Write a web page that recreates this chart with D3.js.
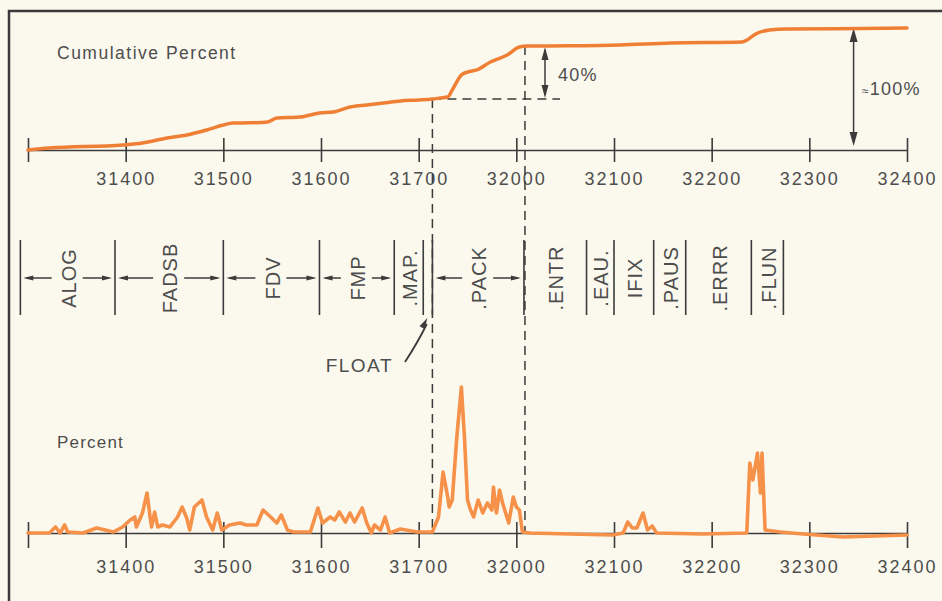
<!DOCTYPE html>
<html>
<head>
<meta charset="utf-8">
<script src="https://cdn.jsdelivr.net/npm/d3@7"></script>
<style>
  body { margin: 0; background: #fbf9ee; }
  svg { display: block; font-family: "Liberation Sans", Arial, sans-serif; }
</style>
</head>
<body>
<svg id="chart" width="942" height="601"></svg>
<script>
// addresses are octal on the axis, decimal in the arrays below
var axisStart = "31300";
var tickLabels = ["31400", "31500", "31600", "31700", "32000", "32100", "32200", "32300", "32400"];

// cumulative percent of samples vs address
var cumAddr = [12992, 13006, 13054, 13067, 13083, 13096, 13109, 13120, 13126, 13137,
               13149, 13155, 13170, 13183, 13192, 13203, 13214, 13225, 13236, 13248,
               13257, 13262, 13267, 13270, 13276, 13280, 13286, 13295, 13306, 13314,
               13319, 13347, 13380, 13413, 13460, 13470, 13478, 13489, 13522, 13568];
var cumPct  = [0, 1.6, 4.1, 5.7, 9.8, 12.3, 16.4, 20.5, 22.1, 22.3,
               23.0, 26.2, 27.0, 30.3, 31.1, 35.2, 36.9, 38.5, 40.2, 41.0,
               41.8, 42.6, 43.4, 49.2, 61.5, 63.9, 65.6, 72.1, 77.9, 84.4,
               85.2, 85.4, 86.1, 87.7, 88.5, 95.9, 98.4, 99.2, 99.4, 100];

// percent of samples per address
var pctAddr = [12992, 13006, 13010, 13013, 13016, 13018, 13028, 13037, 13048, 13054,
               13059, 13062, 13063, 13067, 13070, 13072, 13073, 13075, 13077, 13080,
               13085, 13090, 13093, 13096, 13098, 13101, 13106, 13109, 13113, 13116,
               13119, 13124, 13131, 13135, 13142, 13146, 13151, 13155, 13158, 13162,
               13166, 13177, 13182, 13185, 13190, 13193, 13196, 13200, 13203, 13206,
               13211, 13214, 13217, 13219, 13223, 13226, 13229, 13236, 13247, 13257,
               13261, 13264, 13267, 13268, 13270, 13273, 13276, 13278, 13280, 13282,
               13284, 13287, 13290, 13293, 13296, 13297, 13299, 13301, 13303, 13307,
               13310, 13312, 13314, 13316, 13321, 13347, 13375, 13382, 13385, 13388,
               13391, 13395, 13398, 13401, 13404, 13434, 13463, 13465, 13467, 13470,
               13472, 13473, 13475, 13485, 13500, 13526, 13568];
var pctVal  = [0, 0, 0.3, 0, 0.4, 0.05, 0, 0.25, 0.05, 0.3,
               0.65, 0.8, 0.3, 1.0, 2.0, 0.8, 0.3, 1.05, 0.3, 0.4,
               0.3, 0.8, 1.3, 0.75, 0.15, 1.3, 1.65, 0.8, 0.15, 1.0,
               0.15, 0.4, 0.5, 0.4, 0.4, 1.15, 0.8, 0.5, 0.9, 0.15,
               0.05, 0.05, 1.25, 0.5, 0.8, 0.65, 1.05, 0.55, 1.0, 0.55,
               1.25, 0.5, 0, 0.4, 0.15, 0.8, 0, 0.2, 0.05, 0.05,
               0.8, 3.05, 1.8, 1.3, 1.65, 4.8, 7.3, 4.8, 1.65, 1.15,
               0.8, 1.65, 1.0, 1.5, 1.15, 2.3, 1.0, 2.15, 1.5, 0.5,
               1.8, 1.3, 1.15, 0.05, 0, -0.05, -0.1, 0, 0.55, 0.25,
               0.25, 1.0, 0.15, 0.35, 0, -0.05, 0, 3.5, 2.65, 4.0,
               2.0, 4.0, 0.15, 0.05, -0.05, -0.2, -0.1];

// subroutine boundaries (decimal addresses), one more entry than names
var moduleNames  = ["ALOG", "FADSB", "FDV", "FMP", ".MAP.", "FLOAT", ".PACK",
                    ".ENTR", ".EAU.", "IFIX", ".PAUS", ".ERRR", ".FLUN"];
var moduleBounds = [12987, 13049, 13120, 13183, 13232, 13251, 13257, 13317,
                    13358, 13376, 13402, 13423, 13466, 13487];
var arrowedModules = ["ALOG", "FADSB", "FDV", "FMP", ".PACK"];
var totalArrowAddr = 13533;

var ink = "#3b3b3b", textInk = "#4d4d4d";

var svg = d3.select("#chart");
var toDec = function(s) { return parseInt(s, 8); };
var tickVals = [axisStart].concat(tickLabels).map(toDec);

var x = d3.scaleLinear()
  .domain([toDec(axisStart), toDec(tickLabels[tickLabels.length - 1])])
  .range([28, 907]);
var yCum = d3.scaleLinear().domain([0, 100]).range([150, 28]);
var yPct = d3.scaleLinear().domain([0, 8]).range([533, 373]);

// frame
svg.append("path")
  .attr("d", "M9,601V11H942")
  .attr("fill", "none").attr("stroke", ink).attr("stroke-width", 2.5);

function arrowHead(g, tx, ty, angle, len, w) {
  // angle in degrees, direction the arrow points
  g.append("path")
    .attr("d", "M0,0L" + (-len) + "," + (-w / 2) + "L" + (-len) + "," + (w / 2) + "Z")
    .attr("transform", "translate(" + tx + "," + ty + ") rotate(" + angle + ")")
    .attr("fill", ink);
}

function drawAxis(y, up, down, labelY) {
  var axis = d3.axisBottom(x)
    .tickValues(tickVals)
    .tickSizeInner(down)
    .tickSizeOuter(0)
    .tickFormat(function(d) { return d === toDec(axisStart) ? "" : d.toString(8); });
  var g = svg.append("g").attr("transform", "translate(0," + y + ")").call(axis);
  g.select(".domain").attr("stroke", ink).attr("stroke-width", 1.6);
  g.selectAll(".tick line").attr("y1", -up).attr("stroke", ink).attr("stroke-width", 1.6);
  g.selectAll(".tick text")
    .attr("y", labelY).attr("dy", "0.35em")
    .attr("font-size", 18).attr("letter-spacing", 2)
    .attr("fill", textInk)
    .attr("font-family", "Liberation Sans, Arial, sans-serif");
}

drawAxis(150, 12, 12, 29);
drawAxis(533, 11, 15, 34);

// guide lines for .PACK
var packStart = moduleBounds[moduleNames.indexOf(".PACK")];
var packEnd = moduleBounds[moduleNames.indexOf(".PACK") + 1];
var lowPct = cumPct[cumAddr.indexOf(13257)];
var highPct = cumPct[cumAddr.indexOf(13319)];
var guides = svg.append("g").attr("stroke", ink).attr("stroke-width", 1.5).attr("fill", "none");
guides.append("line")
  .attr("x1", x(packStart)).attr("x2", x(packStart))
  .attr("y1", yCum(lowPct)).attr("y2", yPct(0))
  .attr("stroke-dasharray", "9,6");
guides.append("line")
  .attr("x1", x(packEnd) + 1).attr("x2", x(packEnd) + 1)
  .attr("y1", yCum(highPct)).attr("y2", yPct(0))
  .attr("stroke-dasharray", "9,6");
guides.append("line")
  .attr("x1", x(packStart)).attr("x2", 560)
  .attr("y1", yCum(lowPct)).attr("y2", yCum(lowPct))
  .attr("stroke-dasharray", "9,6");
guides.append("line")
  .attr("x1", x(packEnd) + 3).attr("x2", 560)
  .attr("y1", yCum(highPct)).attr("y2", yCum(highPct))
  .attr("stroke-width", 2);

// 40% arrow
var ann = svg.append("g");
ann.append("line")
  .attr("x1", 545).attr("x2", 545)
  .attr("y1", yCum(highPct) + 4).attr("y2", yCum(lowPct) - 4)
  .attr("stroke", ink).attr("stroke-width", 1.5);
arrowHead(ann, 545, yCum(highPct) + 1, -90, 13, 7);
arrowHead(ann, 545, yCum(lowPct) - 1, 90, 13, 7);
ann.append("text")
  .attr("x", 558).attr("y", 75).attr("dy", "0.35em")
  .attr("font-size", 18).attr("letter-spacing", 1.2).attr("fill", textInk)
  .text("40%");

// ~100% arrow
ann.append("line")
  .attr("x1", x(totalArrowAddr)).attr("x2", x(totalArrowAddr))
  .attr("y1", yCum(100) + 4).attr("y2", yCum(0) - 8)
  .attr("stroke", ink).attr("stroke-width", 1.5);
arrowHead(ann, x(totalArrowAddr), yCum(100), -90, 14, 8);
arrowHead(ann, x(totalArrowAddr), yCum(0) - 4, 90, 14, 8);
var t100 = ann.append("text")
  .attr("x", 862).attr("y", 89).attr("dy", "0.35em")
  .attr("font-size", 18).attr("letter-spacing", 1.2).attr("fill", textInk);
t100.append("tspan").attr("font-size", 12).text("\u2248");
t100.append("tspan").text("100%");

// titles
svg.append("text")
  .attr("x", 57).attr("y", 53).attr("dy", "0.35em")
  .attr("font-size", 17.5).attr("letter-spacing", 1.5).attr("fill", textInk)
  .text("Cumulative Percent");
svg.append("text")
  .attr("x", 57).attr("y", 442).attr("dy", "0.35em")
  .attr("font-size", 17).attr("letter-spacing", 1.2).attr("fill", textInk)
  .text("Percent");

// module band
var band = svg.append("g");
var bandTop = 240, bandBottom = 315, bandMid = 278;
band.selectAll("line.bound")
  .data(moduleBounds)
  .enter().append("line")
  .attr("class", "bound")
  .attr("x1", d => x(d)).attr("x2", d => x(d))
  .attr("y1", bandTop).attr("y2", bandBottom)
  .attr("stroke", ink).attr("stroke-width", 1.6);

moduleNames.forEach(function(name, i) {
  var x0 = x(moduleBounds[i]), x1 = x(moduleBounds[i + 1]), cx = (x0 + x1) / 2;
  if (name === "FLOAT") return;
  band.append("text")
    .attr("transform", "translate(" + (cx + 1) + "," + bandMid + ") rotate(-90)")
    .attr("text-anchor", "middle").attr("dy", "0.36em")
    .attr("font-size", 20).attr("letter-spacing", 1).attr("fill", textInk)
    .text(name);
  if (arrowedModules.indexOf(name) >= 0) {
    band.append("line")
      .attr("x1", x0 + 6).attr("x2", cx - 16)
      .attr("y1", bandMid).attr("y2", bandMid)
      .attr("stroke", ink).attr("stroke-width", 1.5);
    arrowHead(band, x0 + 3, bandMid, 180, 10, 5);
    band.append("line")
      .attr("x1", cx + 15).attr("x2", x1 - 6)
      .attr("y1", bandMid).attr("y2", bandMid)
      .attr("stroke", ink).attr("stroke-width", 1.5);
    arrowHead(band, x1 - 3, bandMid, 0, 10, 5);
  }
});

// FLOAT callout
var fi = moduleNames.indexOf("FLOAT");
var fx = (x(moduleBounds[fi]) + x(moduleBounds[fi + 1])) / 2;
band.append("text")
  .attr("x", 393).attr("y", 365).attr("dy", "0.35em")
  .attr("text-anchor", "end")
  .attr("font-size", 19).attr("letter-spacing", 1.5).attr("fill", textInk)
  .text("FLOAT");
band.append("path")
  .attr("d", "M405,362Q418,342 " + (fx - 1) + ",324")
  .attr("fill", "none").attr("stroke", ink).attr("stroke-width", 1.8);
arrowHead(band, fx - 0.5, 318, -62, 11, 6);

// data curves
var cumLine = d3.line()
  .x(d => x(d[0])).y(d => yCum(d[1]))
  .curve(d3.curveMonotoneX);
svg.append("path")
  .datum(d3.zip(cumAddr, cumPct))
  .attr("d", cumLine)
  .attr("fill", "none").attr("stroke", "#f07f36").attr("stroke-width", 3.5)
  .attr("stroke-linejoin", "round").attr("stroke-linecap", "round");

var pctLine = d3.line()
  .x(d => x(d[0])).y(d => yPct(d[1]));
svg.append("path")
  .datum(d3.zip(pctAddr, pctVal))
  .attr("d", pctLine)
  .attr("fill", "none").attr("stroke", "#f6914a").attr("stroke-width", 3.6)
  .attr("stroke-linejoin", "round").attr("stroke-linecap", "round");
</script>
</body>
</html>
